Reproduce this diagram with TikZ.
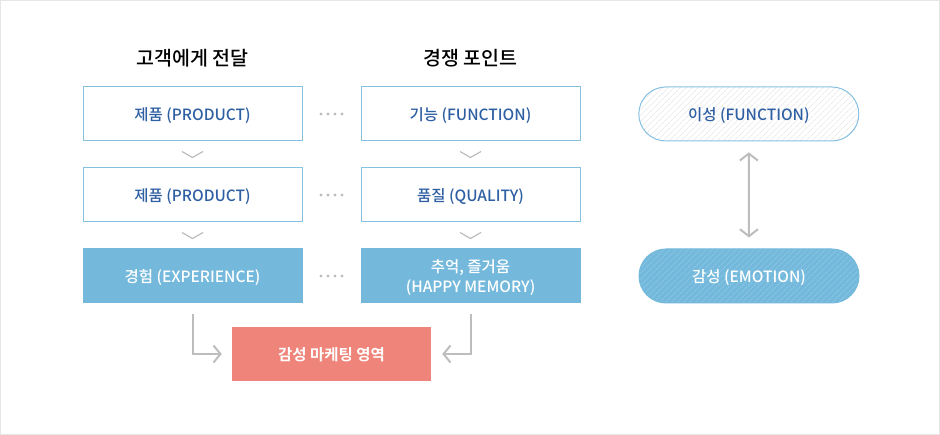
\documentclass[tikz,border=0pt]{standalone}
\usepackage{fontspec}
\setmainfont{Noto Sans CJK KR}[UprightFont={* Medium}, BoldFont={* Bold}]
\usepackage{xcolor}
\usepackage{tikz}
\usetikzlibrary{arrows.meta, positioning, calc, patterns.meta}
\definecolor{boxblue}{HTML}{74B9DC}
\definecolor{lineblue}{HTML}{86C1E2}
\definecolor{hatchblue}{HTML}{93CBE8}
\definecolor{textblue}{HTML}{2E5FA3}
\definecolor{markred}{HTML}{EF857A}
\definecolor{arrowgray}{HTML}{BDBDBD}
\definecolor{framegray}{HTML}{E6E6E6}

\begin{document}
\begin{tikzpicture}[
    x=1pt, y=-1pt,
    node distance=26pt and 58pt,
    plainbox/.style={
        draw=lineblue, line width=1pt, fill=white,
        rectangle, minimum width=219pt, minimum height=54pt,
        inner sep=0pt, align=center, text=textblue, text depth=0pt,
        font=\fontsize{15.5}{20.5}\selectfont,
    },
    filledbox/.style={
        plainbox, draw=boxblue, fill=boxblue, text=white,
    },
    markbox/.style={
        rectangle, fill=markred, minimum width=199pt, minimum height=54pt,
        inner sep=0pt, align=center, text=white, text depth=0pt,
        font=\fontsize{15.5}{20.5}\selectfont\bfseries,
    },
    pillbox/.style={
        draw=lineblue, line width=1pt, rounded corners=27pt,
        minimum width=220pt, minimum height=54pt,
        inner sep=0pt, align=center, text=textblue, text depth=0pt,
        font=\fontsize{15.5}{20.5}\selectfont,
        preaction={fill=white},
        pattern={Lines[angle=45, distance=4pt, line width=0.6pt]},
        pattern color=black!12,
    },
    pillfilled/.style={
        pillbox, draw=boxblue, text=white,
        preaction={fill=boxblue},
        pattern color=hatchblue,
    },
    header/.style={font=\fontsize{19.5}{23}\selectfont, text=black},
    chev/.style={draw=arrowgray, line width=1.2pt},
    elbow/.style={draw=arrowgray, line width=2pt,
        -{Straight Barb[length=7pt, width=17pt, line width=2pt]}},
    twoway/.style={draw=arrowgray, line width=2pt,
        {Straight Barb[length=7pt, width=18pt, line width=2pt]}-{Straight Barb[length=7pt, width=18pt, line width=2pt]}},
]
\useasboundingbox (0,0) rectangle (940,435);
\draw[framegray, line width=1pt] (0.5,0.5) rectangle (939.5,434.5);

% Left column
\node[plainbox] (prod1) at (192.5,114) {제품 (PRODUCT)};
\node[plainbox, below=of prod1] (prod2) {제품 (PRODUCT)};
\node[filledbox, below=of prod2] (exper) {경험 (EXPERIENCE)};

% Middle column
\node[plainbox, right=of prod1] (func) {기능 (FUNCTION)};
\node[plainbox, right=of prod2] (qual) {품질 (QUALITY)};
\node[filledbox, right=of exper] (memory) {추억, 즐거움\\(HAPPY MEMORY)};

% Right pills
\node[pillbox, right=of func] (reason) {이성 (FUNCTION)};
\node[pillfilled, right=of memory] (emotion) {감성 (EMOTION)};

% Result
\node[markbox] (market) at (331.5,354) {감성 마케팅 영역};

% Headers
\node[header] (hleft) at (192.5,58) {고객에게 전달};
\node[header] (hmid) at (470.5,58) {경쟁 포인트};

% Chevrons
\foreach \a/\b in {prod1/prod2, prod2/exper, func/qual, qual/memory}
    \draw[chev] ($(\a.south)!0.5!(\b.north)$) ++(-10.5,-3) -- ++(10.5,6) -- ++(10.5,-6);

% Dots
\foreach \a/\b in {prod1/func, prod2/qual, exper/memory}
    \foreach \dx in {-10.5,-3.5,3.5,10.5}
        \fill[arrowgray] ($(\a.east)!0.5!(\b.west)$) ++(\dx,0) circle (1.6pt);

% Arrows
\draw[elbow, shorten >=10pt] ([yshift=-11pt]exper.south) |- (market.west);
\draw[elbow, shorten >=11pt] ([yshift=-11pt]memory.south) |- (market.east);
\draw[twoway, shorten <=11pt, shorten >=11pt] (reason.south) -- (emotion.north);

\end{tikzpicture}
\end{document}
